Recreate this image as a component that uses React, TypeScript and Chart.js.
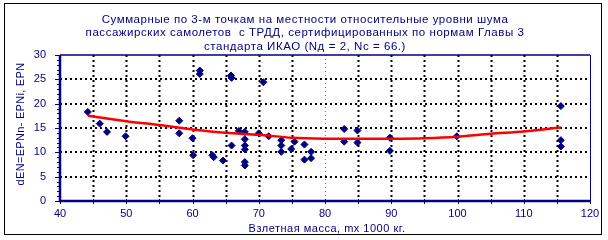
import React, { useEffect, useRef } from "react";
import { Chart, registerables } from "chart.js";
Chart.register(...registerables);

const titleLines = [
  "Суммарные по 3-м точкам на местности относительные уровни шума",
  "пассажирских самолетов  с ТРДД, сертифицированных по нормам Главы 3",
  "стандарта ИКАО (Nд = 2, Nс = 66.)",
];
const xAxisTitle = "Взлетная масса, mх 1000 кг.";
const yAxisTitle = "dEN=EPNn- EPNi, EPN";

const massX = [
  44.2, 46.0, 47.1, 49.9, 58.0, 58.0, 60.0, 60.1, 61.1, 61.1, 63.0, 63.2, 64.6,
  65.9, 65.8, 65.9, 67.0, 67.9, 67.9, 67.9, 67.9, 67.9, 67.9, 70.7, 70.0, 71.5,
  73.4, 73.4, 73.4, 75.4, 74.9, 76.9, 77.9, 76.9, 77.9, 82.9, 82.9, 84.9, 84.9,
  89.8, 89.8, 99.9, 115.6, 115.6, 115.6,
];
const noiseY = [
  18.3, 15.9, 14.2, 13.3, 16.5, 13.9, 12.9, 9.4, 26.8, 26.1, 9.4, 9.0, 8.3,
  11.4, 25.8, 25.3, 14.4, 14.2, 12.7, 11.4, 10.6, 8.0, 7.3, 24.4, 13.9, 13.3,
  12.5, 11.4, 10.1, 12.2, 10.7, 11.6, 10.1, 8.5, 8.8, 14.8, 12.2, 14.5, 12.0,
  13.0, 10.3, 13.3, 19.5, 12.5, 11.2,
];
const trendX = [44.2, 50, 55, 60, 65, 70, 75, 80, 85, 90, 95, 100, 105, 110, 115.6];
const trendY = [17.5, 16.4, 15.6, 14.7, 14.0, 13.6, 13.0, 12.8, 12.8, 12.8, 12.9, 13.2, 13.8, 14.3, 15.1];

const xMin = 40, xMax = 120, xMajor = 10, xGridStep = 5;
const yMin = 0, yMax = 30, yMajor = 5, yMinor = 1;

const NAVY = "#000080";
const FONT = "'Liberation Sans', Arial, sans-serif";

const framePlugin = {
  id: "frame",
  beforeDraw(chart: any) {
    const ctx = chart.ctx;
    ctx.save();
    ctx.fillStyle = "#ffffff";
    ctx.fillRect(0, 0, chart.width, chart.height);
    ctx.strokeStyle = "#000000";
    ctx.lineWidth = 1;
    ctx.strokeRect(4.5, 3.5, 597, 231);
    ctx.fillStyle = NAVY;
    ctx.font = `11.5px ${FONT}`;
    ctx.textAlign = "center";
    ctx.textBaseline = "middle";
    (ctx as any).letterSpacing = "0.55px";
    const ys = [19.5, 33, 46.5];
    titleLines.forEach((t, i) => ctx.fillText(t, 305, ys[i]));
    // axis titles
    ctx.font = `11px ${FONT}`;
    (ctx as any).letterSpacing = "0.5px";
    ctx.fillText(xAxisTitle, 327, 228.5);
    (ctx as any).letterSpacing = "0.3px";
    ctx.translate(21, 124);
    ctx.rotate(-Math.PI / 2);
    ctx.fillText(yAxisTitle, 0, 0);
    (ctx as any).letterSpacing = "0px";
    ctx.restore();
  },
  beforeDatasetsDraw(chart: any) {
    const { ctx, chartArea: a, scales } = chart;
    const xs = scales.x, ys = scales.y;
    ctx.save();
    // vertical gridlines
    for (let v = xMin + xGridStep; v < xMax; v += xGridStep) {
      const px = Math.round(xs.getPixelForValue(v)) + 0.5;
      ctx.beginPath();
      if (v === 80) {
        ctx.strokeStyle = "#2a9a9a";
        ctx.lineWidth = 1;
        ctx.setLineDash([1, 3]);
      } else {
        ctx.strokeStyle = "#000000";
        ctx.lineWidth = 2;
        ctx.setLineDash([2, 3]);
      }
      ctx.moveTo(px, a.top);
      ctx.lineTo(px, a.bottom);
      ctx.stroke();
    }
    ctx.strokeStyle = "#000000";
    ctx.lineWidth = 2;
    ctx.setLineDash([2, 3]);
    for (let v = yMin + yMajor; v < yMax; v += yMajor) {
      const py = Math.round(ys.getPixelForValue(v));
      ctx.beginPath();
      ctx.moveTo(a.left, py);
      ctx.lineTo(a.right, py);
      ctx.stroke();
    }
    ctx.setLineDash([]);
    ctx.strokeStyle = NAVY;
    // top and right border
    ctx.lineWidth = 1.5;
    ctx.beginPath();
    ctx.moveTo(a.left, a.top);
    ctx.lineTo(a.right, a.top);
    ctx.stroke();
    ctx.lineWidth = 1;
    ctx.beginPath();
    ctx.moveTo(a.right + 0.5, a.top);
    ctx.lineTo(a.right + 0.5, a.bottom);
    ctx.stroke();
    // y ticks
    ctx.lineWidth = 1;
    for (let v = yMin; v <= yMax; v += yMinor) {
      const py = Math.round(ys.getPixelForValue(v)) + 0.5;
      const len = v % yMajor === 0 ? 5 : 3;
      ctx.beginPath();
      ctx.moveTo(a.left - len, py);
      ctx.lineTo(a.left, py);
      ctx.stroke();
    }
    // x ticks
    for (let v = xMin; v <= xMax; v += xGridStep) {
      const px = Math.round(xs.getPixelForValue(v)) + 0.5;
      ctx.beginPath();
      ctx.moveTo(px, a.bottom - 2);
      ctx.lineTo(px, a.bottom + 3);
      ctx.stroke();
    }
    // left and bottom axis
    ctx.lineWidth = 2.5;
    ctx.beginPath();
    ctx.moveTo(a.left, a.top);
    ctx.lineTo(a.left, a.bottom);
    ctx.lineTo(a.right + 1, a.bottom);
    ctx.stroke();
    ctx.restore();
  },
};

export default function App() {
  const ref = useRef<HTMLCanvasElement>(null);
  useEffect(() => {
    if (!ref.current) return;
    const chart = new Chart(ref.current, {
      type: "scatter",
      data: {
        datasets: [
          {
            type: "line",
            label: "trend",
            data: trendX.map((x, i) => ({ x, y: trendY[i] })),
            borderColor: "#ff0000",
            borderWidth: 2.5,
            pointRadius: 0,
            tension: 0.3,
            fill: false,
          } as any,
          {
            label: "points",
            data: massX.map((x, i) => ({ x, y: noiseY[i] })),
            backgroundColor: NAVY,
            borderColor: NAVY,
            borderWidth: 1,
            pointStyle: "rectRot",
            pointRadius: 3.5,
          },
        ],
      },
      options: {
        responsive: false,
        animation: false,
        layout: { padding: { top: 55, right: 18, left: 0, bottom: 0 } },
        plugins: {
          legend: { display: false },
          title: { display: false },
          tooltip: { enabled: false },
        },
        scales: {
          x: {
            type: "linear",
            min: xMin,
            max: xMax,
            grid: { display: false, drawTicks: false },
            border: { display: false },
            ticks: {
              stepSize: xMajor,
              color: NAVY,
              font: { family: FONT, size: 11 },
              padding: 6,
              maxRotation: 0,
            },
            afterFit: (s: any) => {
              s.height = 39;
            },
          },
          y: {
            min: yMin,
            max: yMax,
            grid: { display: false, drawTicks: false },
            border: { display: false },
            ticks: {
              stepSize: yMajor,
              color: NAVY,
              font: { family: FONT, size: 11 },
              padding: 14,
            },
            afterFit: (s: any) => {
              s.width = 60;
            },
          },
        },
      },
      plugins: [framePlugin],
    });
    return () => chart.destroy();
  }, []);
  return (
    <div style={{ position: "fixed", left: 0, top: 0, width: 608, height: 240 }}>
      <canvas ref={ref} width={608} height={240} />
    </div>
  );
}
